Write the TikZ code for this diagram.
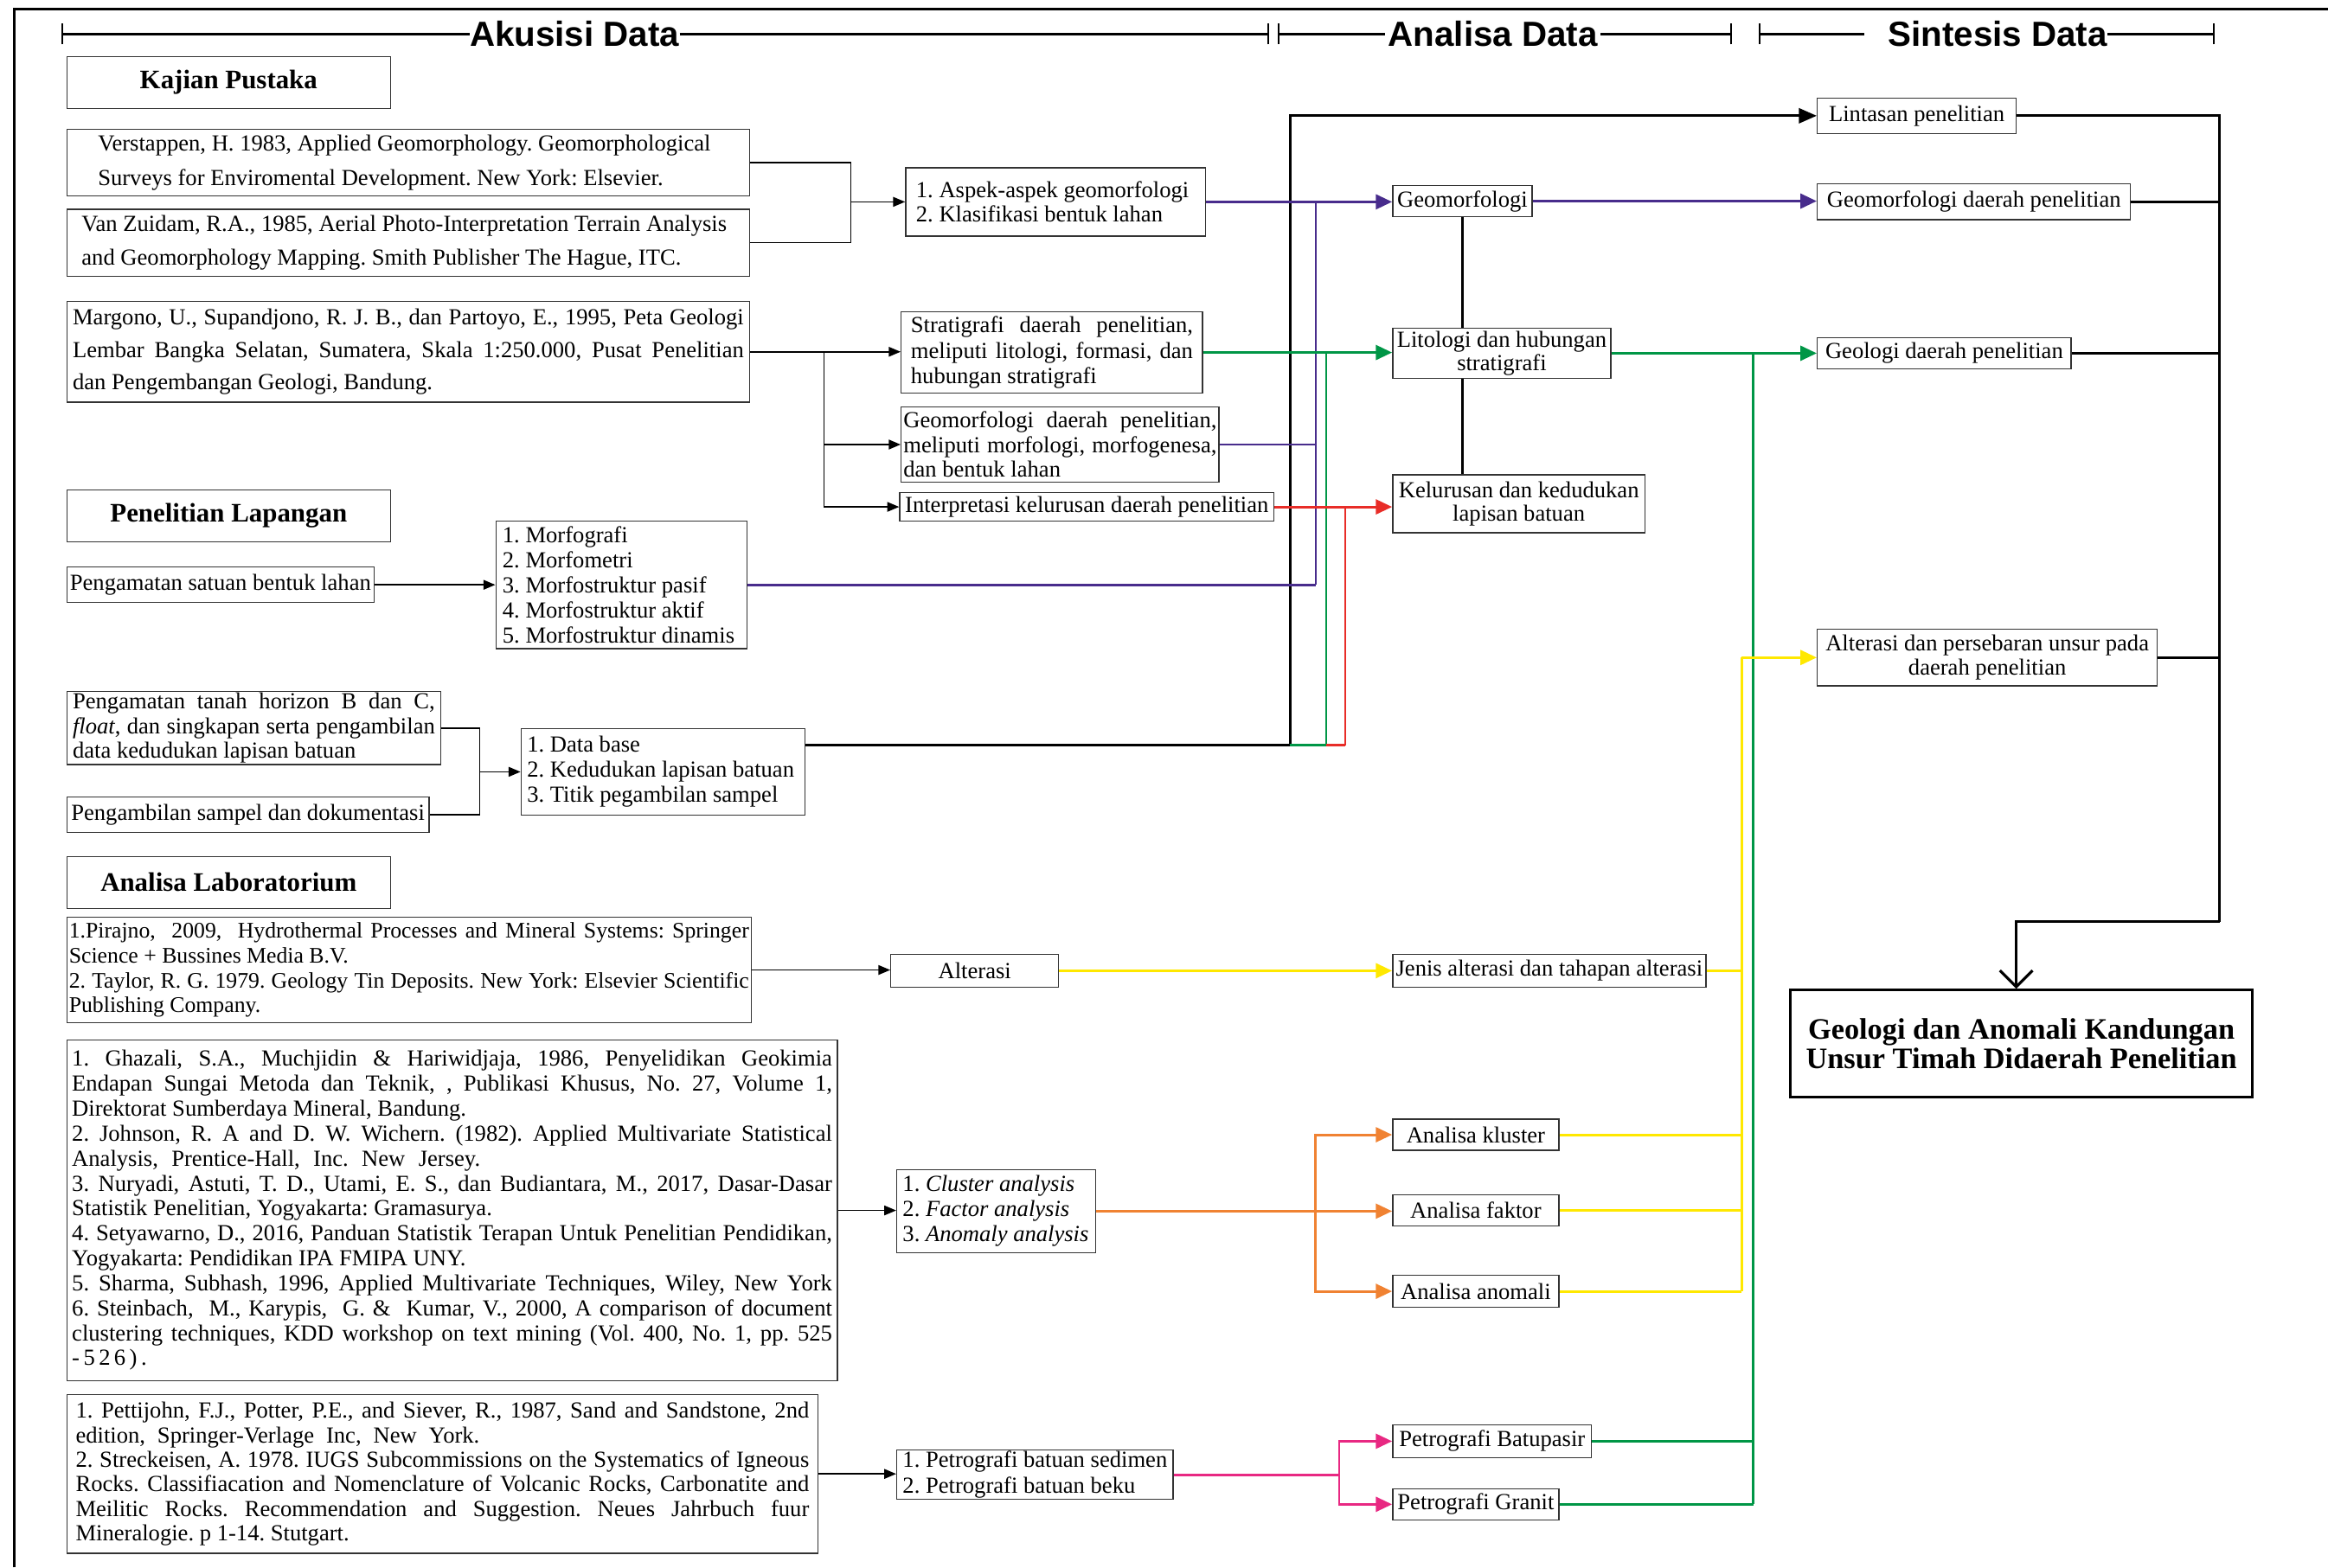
\documentclass[tikz,border=0pt]{standalone}
\usepackage{fontspec}
\setmainfont{Liberation Serif}
\newfontfamily\hdrfont{Liberation Sans}
\usetikzlibrary{arrows.meta,calc}
\frenchspacing
\newcommand\Jline[1]{\makebox[\linewidth][s]{#1}}
\newcommand\Lline[1]{\makebox[\linewidth][l]{#1}}
\definecolor{cpurple}{RGB}{72,44,140}
\definecolor{cgreen}{RGB}{0,150,70}
\definecolor{cred}{RGB}{232,45,40}
\definecolor{cyellow}{RGB}{255,232,0}
\definecolor{corange}{RGB}{240,130,50}
\definecolor{cpink}{RGB}{232,40,130}
\begin{document}
\begin{tikzpicture}[x=1pt,y=-1pt,
  bx/.style={draw=black!80, line width=0.8pt, inner sep=0pt, font=\fontsize{15.5}{17}\selectfont},
  ttl/.style={draw=black!80, line width=0.8pt, inner sep=0pt, minimum width=218pt, minimum height=35pt, font=\fontsize{18}{20}\selectfont\bfseries},
  hdr/.style={inner sep=0pt, font=\hdrfont\bfseries\fontsize{23.5}{26}\selectfont},
  hl/.style={line width=1.6pt},
  tk/.style={line width=1.3pt},
  tline/.style={line width=0.9pt, draw=black},
  sarr/.style={tline, -{Triangle[length=8pt,width=6.5pt]}},
  barr/.style={-{Triangle[length=11pt,width=10pt]}},
  cl/.style={line width=1.7pt, draw=#1},
  cv/.style={line width=1.2pt, draw=#1},
  blk/.style={line width=1.8pt, draw=black},
]
\useasboundingbox (0,0) rectangle (1568,1056);

% frame
\draw[line width=1.8pt] (9.5,1056) -- (9.5,6) -- (1568,6);

% headers
\node[hdr] (hA) at (387,23) {Akusisi Data};
\coordinate (a1) at (42,23); \coordinate (a2) at (854,23);
\draw[hl] (a1) -- (hA.west); \draw[hl] (hA.east) -- (a2);
\draw[tk] ([yshift=-7pt]a1) -- ([yshift=7pt]a1);
\draw[tk] ([yshift=-7pt]a2) -- ([yshift=7pt]a2);
\node[hdr] (hB) at (1005.5,23) {Analisa Data};
\coordinate (b1) at (861,23); \coordinate (b2) at (1166,23);
\draw[hl] (b1) -- ([xshift=-2pt]hB.west); \draw[hl] ([xshift=2pt]hB.east) -- (b2);
\draw[tk] ([yshift=-7pt]b1) -- ([yshift=7pt]b1);
\draw[tk] ([yshift=-7pt]b2) -- ([yshift=7pt]b2);
\node[hdr] (hC) at (1345.5,23) {Sintesis Data};
\coordinate (c1) at (1185,23); \coordinate (c2) at (1491,23);
\draw[hl] (c1) -- ([xshift=-16pt]hC.west); \draw[hl] (hC.east) -- (c2);
\draw[tk] ([yshift=-7pt]c1) -- ([yshift=7pt]c1);
\draw[tk] ([yshift=-7pt]c2) -- ([yshift=7pt]c2);

% section titles
\node[ttl] (kp) at (154,55.5) {Kajian Pustaka};
\node[ttl] (pl) at (154,347.5) {Penelitian Lapangan};
\node[ttl] (al) at (154,594.5) {Analisa Laboratorium};

% Kajian pustaka references
\node[bx, minimum width=460pt, minimum height=45pt, font=\fontsize{15.5}{23}\selectfont] (vers) at (275,109.5)
 {\parbox{418pt}{\Lline{Verstappen, H. 1983, Applied Geomorphology. Geomorphological}\\\Lline{Surveys for Enviromental Development. New York: Elsevier.}}};
\node[bx, minimum width=460pt, minimum height=45pt, font=\fontsize{15.5}{23}\selectfont] (vanz) at (275,163.5)
 {\parbox{440pt}{\Lline{Van Zuidam, R.A., 1985, Aerial Photo-Interpretation Terrain Analysis}\\\Lline{and Geomorphology Mapping. Smith Publisher The Hague, ITC.}}};
\node[bx, minimum width=460pt, minimum height=68pt, font=\fontsize{15.5}{22}\selectfont] (marg) at (275,237)
 {\parbox{452pt}{\Jline{Margono, U., Supandjono, R. J. B., dan Partoyo, E., 1995, Peta Geologi}\\\Jline{Lembar Bangka Selatan, Sumatera, Skala 1:250.000, Pusat Penelitian}\\\Lline{dan Pengembangan Geologi, Bandung.}}};

% middle column top
\node[bx, minimum width=202pt, minimum height=46pt, font=\fontsize{15.5}{16.5}\selectfont] (aspek) at (711,136)
 {\parbox{188pt}{\Lline{1. Aspek-aspek geomorfologi}\\\Lline{2. Klasifikasi bentuk lahan}}};
\node[bx, minimum width=203pt, minimum height=55pt] (strat) at (708.5,237.5)
 {\parbox{190pt}{\Jline{Stratigrafi daerah penelitian,}\\\Jline{meliputi litologi, formasi, dan}\\\Lline{hubungan stratigrafi}}};
\node[bx, minimum width=214pt, minimum height=51pt, font=\fontsize{15.5}{16.5}\selectfont] (geod) at (714,299.5)
 {\parbox{211pt}{\Jline{Geomorfologi daerah penelitian,}\\\Jline{meliputi morfologi, morfogenesa,}\\\Lline{dan bentuk lahan}}};
\node[bx, minimum width=252pt, minimum height=19pt] (interp) at (732,341.5) {Interpretasi kelurusan daerah penelitian};

% analisa column
\node[bx, minimum width=94pt, minimum height=21pt] (geom) at (985,135.5) {Geomorfologi};
\node[bx, minimum width=147pt, minimum height=34pt, align=center, font=\fontsize{15.5}{16}\selectfont] (lito) at (1011.5,238) {Litologi dan hubungan\\stratigrafi};
\node[bx, minimum width=170pt, minimum height=39pt, align=center, font=\fontsize{15.5}{16}\selectfont] (kel) at (1023,339.5) {Kelurusan dan kedudukan\\lapisan batuan};

% sintesis column
\node[bx, minimum width=134pt, minimum height=24pt] (lint) at (1291,78) {Lintasan penelitian};
\node[bx, minimum width=211pt, minimum height=24pt] (geopen) at (1329.5,136) {Geomorfologi daerah penelitian};
\node[bx, minimum width=171pt, minimum height=21pt] (geolpen) at (1309.5,238) {Geologi daerah penelitian};
\node[bx, minimum width=229pt, minimum height=38pt, align=center, font=\fontsize{15.5}{16.5}\selectfont] (alt2) at (1338.5,443) {Alterasi dan persebaran unsur pada\\daerah penelitian};
\node[draw=black, line width=1.8pt, inner sep=0pt, minimum width=311pt, minimum height=72pt, align=center, font=\fontsize{20}{20}\selectfont\bfseries] (final) at (1361.5,703) {Geologi dan Anomali Kandungan\\Unsur Timah Didaerah Penelitian};

% penelitian lapangan
\node[bx, minimum width=207pt, minimum height=24pt] (psbl) at (148.5,394) {Pengamatan satuan bentuk lahan};
\node[bx, minimum width=169pt, minimum height=86pt, font=\fontsize{15.5}{16.8}\selectfont] (morf) at (418.5,394)
 {\parbox{160pt}{\Lline{1. Morfografi}\\\Lline{2. Morfometri}\\\Lline{3. Morfostruktur pasif}\\\Lline{4. Morfostruktur aktif}\\\Lline{5. Morfostruktur dinamis}}};
\node[bx, minimum width=252pt, minimum height=49pt, font=\fontsize{15.5}{16.5}\selectfont] (ptanah) at (171,490.5)
 {\parbox{244pt}{\Jline{Pengamatan tanah horizon B dan C,}\\\Jline{\textit{float}, dan singkapan serta pengambilan}\\\Lline{data kedudukan lapisan batuan}}};
\node[bx, minimum width=244pt, minimum height=24pt] (psampel) at (167,549) {Pengambilan sampel dan dokumentasi};
\node[bx, minimum width=191pt, minimum height=58pt] (dbase) at (446.5,520)
 {\parbox{183pt}{\Lline{1. Data base}\\\Lline{2. Kedudukan lapisan batuan}\\\Lline{3. Titik pegambilan sampel}}};

% analisa laboratorium
\node[bx, minimum width=461pt, minimum height=71pt, font=\fontsize{15}{16.7}\selectfont] (pira) at (275.5,653.5)
 {\parbox{458pt}{\Jline{1.Pirajno,\ \ 2009,\ \ Hydrothermal Processes and Mineral Systems: Springer}\\\Lline{Science + Bussines Media B.V.}\\\Jline{2. Taylor, R. G. 1979. Geology Tin Deposits. New York: Elsevier Scientific}\\\Lline{Publishing Company.}}};
\node[bx, minimum width=113pt, minimum height=22pt] (alter) at (656.5,654) {Alterasi};
\node[bx, minimum width=211pt, minimum height=22pt] (jenis) at (1043.5,654) {Jenis alterasi dan tahapan alterasi};

\node[bx, minimum width=519pt, minimum height=229.5pt, font=\fontsize{15.5}{16.8}\selectfont] (ghaz) at (304.5,815.5)
 {\parbox{512pt}{%
 \Jline{1. Ghazali, S.A., Muchjidin \& Hariwidjaja, 1986, Penyelidikan Geokimia}\\
 \Jline{Endapan Sungai Metoda dan Teknik, , Publikasi Khusus, No. 27, Volume 1,}\\
 \Lline{Direktorat Sumberdaya Mineral, Bandung.}\\
 \Jline{2. Johnson, R. A and D. W. Wichern. (1982). Applied Multivariate Statistical}\\
 \Lline{\makebox[275pt][s]{Analysis, Prentice-Hall, Inc. New Jersey.}}\\
 \Jline{3. Nuryadi, Astuti, T. D., Utami, E. S., dan Budiantara, M., 2017, Dasar-Dasar}\\
 \Lline{Statistik Penelitian, Yogyakarta: Gramasurya.}\\
 \Jline{4. Setyawarno, D., 2016, Panduan Statistik Terapan Untuk Penelitian Pendidikan,}\\
 \Lline{Yogyakarta: Pendidikan IPA FMIPA UNY.}\\
 \Jline{5. Sharma, Subhash, 1996, Applied Multivariate Techniques, Wiley, New York}\\
 \Jline{6. Steinbach,\ \ M., Karypis,\ \ G. \&\ \ Kumar, V., 2000, A comparison of document}\\
 \Jline{clustering techniques, KDD workshop on text mining (Vol. 400, No. 1, pp. 525}\\
 \Lline{\makebox[40pt][s]{- 5 2 6 ) .}}}};
\node[bx, minimum width=134pt, minimum height=56pt] (clus) at (671,816)
 {\parbox{126pt}{\Lline{1. \textit{Cluster analysis}}\\\Lline{2. \textit{Factor analysis}}\\\Lline{3. \textit{Anomaly analysis}}}};
\node[bx, minimum width=112pt, minimum height=21pt] (klus) at (994,764.5) {Analisa kluster};
\node[bx, minimum width=112pt, minimum height=21pt] (fakt) at (994,815.5) {Analisa faktor};
\node[bx, minimum width=112pt, minimum height=21.5pt] (anom) at (994,870) {Analisa anomali};

\node[bx, minimum width=506pt, minimum height=107pt, font=\fontsize{15.5}{16.5}\selectfont] (petti) at (298,993)
 {\parbox{494pt}{%
 \Jline{1. Pettijohn, F.J., Potter, P.E., and Siever, R., 1987, Sand and Sandstone, 2nd}\\
 \Lline{\makebox[272pt][s]{edition, Springer-Verlage Inc, New York.}}\\
 \Jline{2. Streckeisen, A. 1978. IUGS Subcommissions on the Systematics of Igneous}\\
 \Jline{Rocks. Classifiacation and Nomenclature of Volcanic Rocks, Carbonatite and}\\
 \Jline{Meilitic Rocks. Recommendation and Suggestion. Neues Jahrbuch fuur}\\
 \Lline{Mineralogie. p 1-14. Stutgart.}}};
\node[bx, minimum width=186pt, minimum height=33pt] (petro) at (697,993.5)
 {\parbox{178pt}{\Lline{1. Petrografi batuan sedimen}\\\Lline{2. Petrografi batuan beku}}};
\node[bx, minimum width=134pt, minimum height=22pt] (batu) at (1005,971) {Petrografi Batupasir};
\node[bx, minimum width=112pt, minimum height=21pt] (gran) at (994,1013.5) {Petrografi Granit};

% ---------- thin black connectors
\coordinate (j1) at (573,136);
\draw[tline] (vers.east) -| (j1) |- (vanz.east);
\draw[sarr] (j1) -- (aspek.west);
\coordinate (j2) at (555,237);
\draw[sarr] (marg.east) -- (marg.east -| strat.west);
\draw[sarr] (j2) |- (geod.west);
\draw[sarr] (j2) |- (interp.west);
\draw[sarr] (psbl.east) -- (morf.west);
\coordinate (j3) at (323,520);
\draw[tline] (ptanah.east) -| (j3) |- (psampel.east);
\draw[sarr] (j3) -- (dbase.west);
\draw[sarr] (pira.east) -- (pira.east -| alter.west);
\draw[sarr] (ghaz.east) -- (ghaz.east -| clus.west);
\draw[sarr] (petti.east) -- (petti.east -| petro.west);

% ---------- black thick
\coordinate (jdb) at (869,502);
\draw[blk, -{Triangle[length=12pt,width=10pt]}] (jdb -| dbase.east) -- (jdb) |- (lint.west);
\draw[line width=1.2pt] (geom.south) -- (geom.south |- lito.north);
\draw[line width=1.2pt] (lito.south -| geom.south) -- (kel.north -| geom.south);
\coordinate (jr) at (1495,621);
\draw[blk] (lint.east) -| (jr);
\draw[blk] (geopen.east) -- (geopen.east -| jr);
\draw[blk] (geolpen.east) -- (geolpen.east -| jr);
\draw[blk] (alt2.east) -- (alt2.east -| jr);
\coordinate (jf) at (1358,621);
\draw[blk, -{Straight Barb[length=11pt,width=22pt]}] (jr) -- (jf) -- (jf |- final.north);

% ---------- purple
\coordinate (jp) at (886,136);
\draw[cl=cpurple] (morf.east) -- (morf.east -| jp);
\draw[cv=cpurple] (jp) -- (morf.east -| jp);
\draw[cl=cpurple] (geod.east) -- (geod.east -| jp);
\draw[cl=cpurple, barr] (aspek.east) -- (aspek.east -| geom.west);
\draw[cl=cpurple, barr] (geom.east) -- (geom.east -| geopen.west);

% ---------- green
\coordinate (jg) at (893,237.5);
\draw[cv=cgreen] (jg) -- (jg |- jdb);
\draw[cl=cgreen] (jg |- jdb) -- (jdb);
\draw[cl=cgreen, barr] (strat.east) -- (strat.east -| lito.west);
\coordinate (jg2) at (1181,238);
\draw[cl=cgreen] (jg2) -- (jg2 |- gran.east);
\draw[cl=cgreen] (batu.east) -- (batu.east -| jg2);
\draw[cl=cgreen] (gran.east) -- (gran.east -| jg2);
\draw[cl=cgreen, barr] (lito.east) -- (lito.east -| geolpen.west);

% ---------- red
\coordinate (jrd) at (906,341.5);
\draw[cv=cred] (jrd) -- (jrd |- jdb);
\draw[cl=cred] (jrd |- jdb) -- (jg |- jdb);
\draw[cl=cred, barr] (interp.east) -- (interp.east -| kel.west);

% ---------- yellow
\coordinate (jy) at (1173,443);
\draw[cl=cyellow] (jy) -- (jy |- anom.east);
\draw[cl=cyellow] (jenis.east) -- (jenis.east -| jy);
\draw[cl=cyellow] (klus.east) -- (klus.east -| jy);
\draw[cl=cyellow] (fakt.east) -- (fakt.east -| jy);
\draw[cl=cyellow] (anom.east) -- (anom.east -| jy);
\draw[cl=cyellow, barr] (jy) -- (alt2.west);
\draw[cl=cyellow, barr] (alter.east) -- (jenis.west);

% ---------- orange
\coordinate (jo) at (886,816);
\draw[cl=corange, barr] (clus.east) -- (clus.east -| fakt.west);
\draw[cl=corange, barr] (jo) |- (klus.west);
\draw[cl=corange, barr] (jo) |- (anom.west);

% ---------- pink
\coordinate (jk) at (902,993.5);
\draw[cl=cpink] (petro.east) -- (jk);
\draw[cl=cpink, barr] (jk) |- (batu.west);
\draw[cl=cpink, barr] (jk) |- (gran.west);
\end{tikzpicture}
\end{document}
